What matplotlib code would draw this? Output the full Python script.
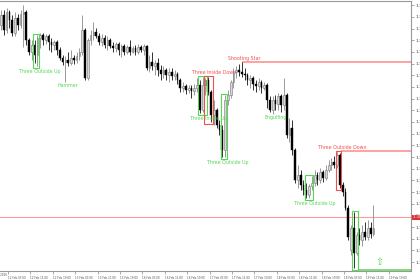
import matplotlib
matplotlib.use('Agg')
import matplotlib.pyplot as plt
from matplotlib.patches import Rectangle
import numpy as np

# ---------------- data (H1 candles) ----------------
open_ = [1.3275,1.3285,1.3270,1.3288,1.3280,1.3267,1.3282,1.3275,1.3286,1.3288,
         1.3260,1.3248,1.3255,1.3245,1.3262,1.3265,1.3260,1.3264,1.3258,1.3255,
         1.3258,1.3250,1.3242,1.3238,1.3240,1.3237,1.3242,1.3240,1.3244,1.3248,
         1.3270,1.3222,1.3260,1.3265,1.3268,1.3264,1.3258,1.3262,1.3255,1.3260,
         1.3254,1.3252,1.3256,1.3250,1.3254,1.3248,1.3253,1.3248,1.3252,1.3248,
         1.3253,1.3250,1.3254,1.3232,1.3238,1.3234,1.3237,1.3230,1.3226,1.3230,
         1.3225,1.3228,1.3224,1.3226,1.3220,1.3212,1.3214,1.3210,1.3212,1.3209,
         1.3212,1.3215,1.3190,1.3215,1.3220,1.3208,1.3185,1.3190,1.3175,1.3170,
         1.3150,1.3200,1.3205,1.3218,1.3228,1.3230,1.3228,1.3226,1.3225,1.3220,
         1.3222,1.3216,1.3214,1.3218,1.3212,1.3215,1.3200,1.3190,1.3200,1.3196,
         1.3204,1.3195,1.3205,1.3165,1.3172,1.3150,1.3120,1.3125,1.3115,1.3110,
         1.3105,1.3114,1.3117,1.3125,1.3120,1.3128,1.3122,1.3130,1.3135,1.3138,
         1.3135,1.3145,1.3115,1.3108,1.3092,1.3050,1.3072,1.3047,1.3065,1.3060,
         1.3068,1.3063,1.3072,1.3066]
high = [1.3290,1.3290,1.3292,1.3290,1.3285,1.3288,1.3286,1.3290,1.3295,1.3290,
        1.3262,1.3260,1.3260,1.3265,1.3267,1.3267,1.3266,1.3266,1.3262,1.3260,
        1.3260,1.3253,1.3245,1.3244,1.3248,1.3250,1.3245,1.3248,1.3252,1.3285,
        1.3272,1.3262,1.3270,1.3278,1.3272,1.3267,1.3266,1.3265,1.3264,1.3262,
        1.3258,1.3258,1.3258,1.3256,1.3256,1.3255,1.3260,1.3254,1.3255,1.3256,
        1.3255,1.3256,1.3255,1.3245,1.3248,1.3240,1.3242,1.3235,1.3234,1.3232,
        1.3232,1.3232,1.3230,1.3228,1.3222,1.3218,1.3216,1.3215,1.3215,1.3216,
        1.3222,1.3220,1.3223,1.3222,1.3223,1.3210,1.3200,1.3192,1.3180,1.3175,
        1.3205,1.3210,1.3220,1.3232,1.3234,1.3236,1.3238,1.3232,1.3227,1.3225,
        1.3224,1.3220,1.3222,1.3220,1.3218,1.3217,1.3204,1.3204,1.3205,1.3207,
        1.3206,1.3222,1.3207,1.3182,1.3180,1.3152,1.3135,1.3130,1.3120,1.3117,
        1.3116,1.3124,1.3130,1.3128,1.3132,1.3130,1.3135,1.3140,1.3142,1.3144,
        1.3148,1.3147,1.3118,1.3112,1.3095,1.3075,1.3088,1.3068,1.3072,1.3075,
        1.3078,1.3080,1.3078,1.3095]
low = [1.3270,1.3265,1.3267,1.3272,1.3264,1.3264,1.3270,1.3272,1.3253,1.3255,
       1.3245,1.3240,1.3237,1.3234,1.3252,1.3255,1.3256,1.3250,1.3248,1.3250,
       1.3245,1.3240,1.3235,1.3218,1.3234,1.3235,1.3236,1.3237,1.3240,1.3245,
       1.3220,1.3220,1.3255,1.3260,1.3262,1.3255,1.3254,1.3252,1.3250,1.3252,
       1.3248,1.3248,1.3245,1.3243,1.3245,1.3246,1.3245,1.3247,1.3245,1.3246,
       1.3248,1.3245,1.3230,1.3228,1.3230,1.3225,1.3224,1.3220,1.3222,1.3220,
       1.3218,1.3220,1.3220,1.3216,1.3208,1.3208,1.3206,1.3207,1.3202,1.3205,
       1.3208,1.3187,1.3188,1.3205,1.3205,1.3178,1.3175,1.3172,1.3165,1.3143,
       1.3143,1.3195,1.3202,1.3212,1.3222,1.3224,1.3223,1.3220,1.3215,1.3212,
       1.3210,1.3208,1.3210,1.3207,1.3210,1.3192,1.3188,1.3186,1.3190,1.3190,
       1.3188,1.3190,1.3162,1.3158,1.3145,1.3117,1.3112,1.3110,1.3105,1.3102,
       1.3102,1.3110,1.3114,1.3115,1.3117,1.3118,1.3120,1.3128,1.3130,1.3132,
       1.3132,1.3112,1.3104,1.3090,1.3060,1.3045,1.3032,1.3045,1.3055,1.3054,
       1.3060,1.3060,1.3062,1.3064]
close = [1.3285,1.3270,1.3288,1.3280,1.3267,1.3282,1.3275,1.3286,1.3288,1.3260,
         1.3248,1.3255,1.3245,1.3262,1.3265,1.3260,1.3264,1.3258,1.3255,1.3258,
         1.3250,1.3242,1.3238,1.3240,1.3237,1.3242,1.3240,1.3244,1.3248,1.3270,
         1.3222,1.3260,1.3265,1.3268,1.3264,1.3258,1.3262,1.3255,1.3260,1.3254,
         1.3252,1.3256,1.3250,1.3254,1.3248,1.3253,1.3248,1.3252,1.3248,1.3253,
         1.3250,1.3254,1.3232,1.3238,1.3234,1.3237,1.3230,1.3226,1.3230,1.3225,
         1.3228,1.3224,1.3226,1.3220,1.3212,1.3214,1.3210,1.3212,1.3209,1.3212,
         1.3215,1.3190,1.3215,1.3220,1.3208,1.3185,1.3190,1.3175,1.3170,1.3150,
         1.3200,1.3205,1.3218,1.3228,1.3230,1.3228,1.3226,1.3225,1.3220,1.3222,
         1.3216,1.3214,1.3218,1.3212,1.3215,1.3200,1.3190,1.3200,1.3196,1.3204,
         1.3195,1.3205,1.3165,1.3172,1.3150,1.3120,1.3125,1.3115,1.3110,1.3105,
         1.3114,1.3117,1.3125,1.3120,1.3128,1.3122,1.3130,1.3135,1.3138,1.3135,
         1.3145,1.3115,1.3108,1.3092,1.3063,1.3072,1.3047,1.3065,1.3060,1.3068,
         1.3063,1.3072,1.3066,1.3072]

current_price = 1.3083

time_labels = ["12 Feb 03:00", "12 Feb 11:00", "12 Feb 19:00", "13 Feb 03:00",
               "13 Feb 11:00", "13 Feb 19:00", "16 Feb 03:00", "16 Feb 11:00",
               "16 Feb 19:00", "17 Feb 03:00", "17 Feb 11:00", "17 Feb 19:00",
               "18 Feb 03:00", "18 Feb 11:00", "18 Feb 19:00", "19 Feb 03:00",
               "19 Feb 11:00", "19 Feb 19:00"]
first_date_label = "11 Feb 2026"

# patterns: name, first candle, last candle, bullish?, boxed?, label side, extends line
pat_names = ["Three Outside Up", "Hammer", "Three Inside Up", "Three Inside Down",
             "Three Outside Up", "Shooting Star", "Engulfing", "Three Outside Up",
             "Three Outside Down", "Three Outside Up"]
pat_start = [12, 23, 71, 73, 79, 86, 96, 109, 120, 126]
pat_end   = [13, 23, 73, 75, 80, 86, 97, 111, 121, 127]
pat_bull  = [True, True, True, False, True, False, True, True, False, True]
pat_box   = [True, False, True, True, True, False, False, True, True, True]
pat_side  = ["below", "below", "below", "above", "below", "above", "below", "below", "above", "below"]
pat_line  = [False, False, False, False, False, True, False, False, True, True]

# ---------------- drawing ----------------
W, H = 420, 280
fig = plt.figure(figsize=(W/100, H/100), dpi=100)
fig.patch.set_facecolor('white')
ax = fig.add_axes([0.0, 9/H, 411/W, 270.5/H])
ax.set_facecolor('white')

n = len(close)
idx = np.arange(n)
o = np.array(open_); c = np.array(close); h = np.array(high); l = np.array(low)
bull = c >= o

GREEN = '#55d855'
RED = '#f05050'
LINE_RED = '#ff9a9a'
LINE_GREEN = '#70dd70'

# current price line
ax.axhline(current_price, color=LINE_RED, lw=0.8, zorder=1)

# wicks
ax.vlines(idx[bull], l[bull], h[bull], color='#8a8a8a', lw=0.6, zorder=2)
ax.vlines(idx[~bull], l[~bull], h[~bull], color='#111111', lw=0.6, zorder=2)
# bodies
body_lo = np.minimum(o, c)
body_hi = np.maximum(o, c)
body_h = np.maximum(body_hi - body_lo, 0.00008)
ax.bar(idx[bull], body_h[bull], bottom=body_lo[bull], width=0.62,
       color='#d8d8d8', edgecolor='#777777', linewidth=0.4, zorder=3)
ax.bar(idx[~bull], body_h[~bull], bottom=body_lo[~bull], width=0.62,
       color='#000000', edgecolor='#000000', linewidth=0.3, zorder=3)

x_right = 146.4
pad = 0.00015
for name, s, e, b, boxed, side, ext in zip(pat_names, pat_start, pat_end, pat_bull,
                                           pat_box, pat_side, pat_line):
    col = GREEN if b else RED
    lo = l[s:e+1].min()
    hi = h[s:e+1].max()
    if boxed:
        lo_b, hi_b = lo - pad, hi + pad
        ax.add_patch(Rectangle((s - 0.55, lo_b), (e - s) + 1.1, hi_b - lo_b,
                               fill=False, edgecolor=col, lw=0.8, zorder=4))
    else:
        lo_b, hi_b = lo, hi
    if ext:
        yv = hi_b if not b else lo_b
        ax.plot([e + 0.55 if boxed else s, x_right], [yv, yv],
                color=LINE_GREEN if b else LINE_RED, lw=1.3, zorder=1,
                solid_capstyle='butt')
    tx = e + 1
    if side == "below":
        ax.text(tx, lo_b - 0.0001, name, ha='center', va='top', fontsize=3.4,
                color=col, zorder=5, clip_on=True)
    else:
        ax.text(tx, hi_b + 0.0001, name, ha='center', va='bottom', fontsize=3.4,
                color=col, zorder=5, clip_on=True)

# up arrow signal after last pattern
ax.text(n + 1.0, l.min() + 0.0006, '\u21e7', ha='center', va='center',
        fontsize=7, color=GREEN, zorder=5)

ax.set_xlim(-0.36, x_right)
ax.set_ylim(1.3029, 1.3300)

# y axis on right
yt = 1.32953 - 0.00117 * np.arange(23)
ax.yaxis.tick_right()
ax.set_yticks(yt)
ax.set_yticklabels([f"{v:.5f}" for v in yt])
ax.tick_params(axis='y', length=2, width=0.5, color='#888888', pad=1,
               labelsize=3.2, labelcolor='#444444')

# x axis
xt = 2.5 + 8 * np.arange(len(time_labels))
ax.set_xticks(xt)
ax.set_xticklabels(time_labels, ha='left')
ax.tick_params(axis='x', length=2.5, width=0.5, color='#888888', pad=1,
               labelsize=2.0, labelcolor='#555555')
ax.text(2.2, -0.008, first_date_label, transform=ax.get_xaxis_transform(),
        ha='right', va='top', fontsize=2.0, color='#555555', clip_on=False)

# current price marker on axis
ax.text(1.003, current_price, ' 1.30830 ', transform=ax.get_yaxis_transform(),
        ha='left', va='center', fontsize=2.6, color='white', zorder=10,
        bbox=dict(boxstyle='square,pad=0.15', fc='#e03030', ec='none'), clip_on=False)

for sp in ['left']:
    ax.spines[sp].set_visible(False)
for sp in ['top', 'right', 'bottom']:
    ax.spines[sp].set_color('#999999')
    ax.spines[sp].set_linewidth(0.8)

fig.savefig('out.png', dpi=100, facecolor='white')
